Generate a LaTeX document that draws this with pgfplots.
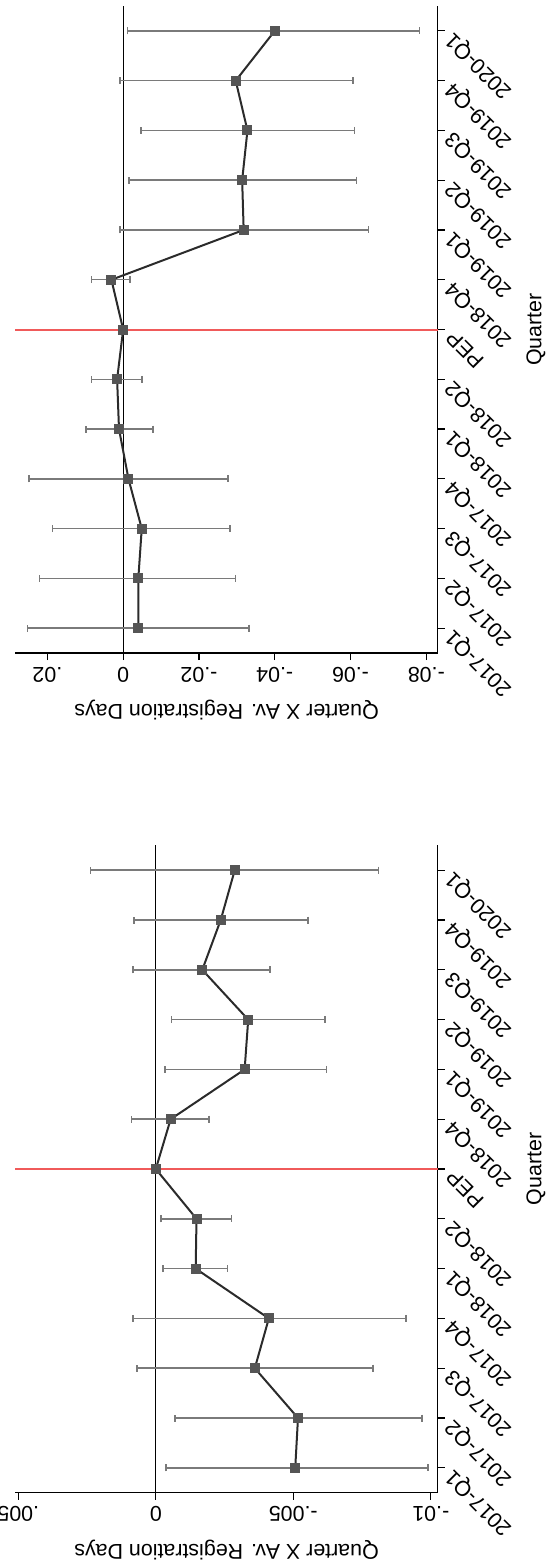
\documentclass[border=0pt]{standalone}
\usepackage{pgfplots}
\usepackage{pgfplotstable}
\pgfplotsset{compat=1.18}
\usepackage{fontspec}
\setmainfont{Liberation Sans}

\definecolor{linec}{HTML}{2B2B2B}
\definecolor{markc}{HTML}{555555}
\definecolor{errc}{HTML}{7A7A7A}
\definecolor{redc}{HTML}{F05A5A}

% q = category index, v = estimate, lo/hi = CI ends
\pgfplotstableread{
q v lo hi
0 -0.0040 -0.0332 0.0253
1 -0.0040 -0.0297 0.0221
2 -0.0049 -0.0282 0.0186
3 -0.0014 -0.0276 0.0249
4 0.0011 -0.0079 0.0098
5 0.0016 -0.0050 0.0083
6 0 0 0
7 0.0031 -0.0018 0.0083
8 -0.0318 -0.0648 0.0008
9 -0.0314 -0.0616 -0.0016
10 -0.0328 -0.0610 -0.0047
11 -0.0297 -0.0606 0.0008
12 -0.0400 -0.0782 -0.0012
}\toptable

\pgfplotstableread{
q v lo hi
0 -0.00507 -0.00990 -0.00037
1 -0.00517 -0.00968 -0.00070
2 -0.00360 -0.00790 0.00069
3 -0.00411 -0.00910 0.00083
4 -0.00145 -0.00261 -0.000255
5 -0.00148 -0.00275 -0.00018
6 0 0 0
7 -0.00054 -0.00194 0.00088
8 -0.00323 -0.00620 -0.00033
9 -0.00336 -0.00615 -0.00057
10 -0.00169 -0.00416 0.00083
11 -0.00236 -0.00554 0.00079
12 -0.00287 -0.00809 0.00238
}\bottable

\pgfplotsset{
  panel/.style={
    scale only axis,
    anchor=south west,
    width=211.15pt,
    axis x line*=bottom,
    axis y line*=right,
    axis line style={black, line width=0.6pt},
    tick align=outside,
    major tick length=3.5pt,
    tick style={black, line width=0.6pt},
    scaled x ticks=false,
    ymin=-0.5, ymax=12.5,
    ytick={0,...,12},
    yticklabels={2017-Q1,2017-Q2,2017-Q3,2017-Q4,2018-Q1,2018-Q2,PEP,2018-Q4,2019-Q1,2019-Q2,2019-Q3,2019-Q4,2020-Q1},
    yticklabel style={rotate=135, anchor=east, font=\fontsize{10.7}{12}\selectfont},
    xticklabel style={rotate=180, anchor=south, font=\fontsize{10.7}{12}\selectfont},
    every axis x label/.style={at={(axis description cs:0.5,-0.088)}, anchor=center, rotate=180, font=\fontsize{10.7}{12}\selectfont},
    every axis y label/.style={at={(axis description cs:1.2328,0.5)}, anchor=center, rotate=90, font=\fontsize{10.7}{12}\selectfont},
    xlabel={Quarter X Av. Registration Days},
    ylabel={Quarter},
    clip=false,
  },
  errplot/.style={
    only marks, mark=none, forget plot,
    skip coords between index={6}{7},
    error bars/.cd, x dir=both, x explicit,
    error bar style={errc, line width=0.75pt},
    error mark options={errc, line width=0.75pt, mark size=1.75pt, rotate=90},
  },
  lineplot/.style={
    linec, line width=1pt,
    mark=square*, mark size=2.25pt,
    mark options={fill=markc, draw=markc, line width=0pt},
  },
}

\begin{document}
\begin{tikzpicture}
\useasboundingbox (0,0) rectangle (274.5pt,-784pt);

% top panel
\begin{axis}[panel,
  at={(7.7pt,-326.5pt)},
  height=323.5pt,
  xmin=-0.02844, xmax=0.0830,
  xtick={-0.02,0,0.02,0.04,0.06,0.08},
  xticklabels={.02,0,-.02,-.04,-.06,-.08},
]
\addplot[black, line width=0.5pt, forget plot] coordinates {(0,-0.5) (0,12.5)};
\addplot[draw=redc, line width=1pt, forget plot] coordinates {(-0.02844,6) (0.0830,6)};
\addplot[errplot] table[x expr=-\thisrow{v}, y=q,
  x error plus expr=\thisrow{v}-\thisrow{lo},
  x error minus expr=\thisrow{hi}-\thisrow{v}] {\toptable};
\addplot[lineplot] table[x expr=-\thisrow{v}, y=q] {\toptable};
\end{axis}

% bottom panel
\begin{axis}[panel,
  at={(7.7pt,-746.35pt)},
  height=323.7pt,
  xmin=-0.005105, xmax=0.01025,
  xtick={-0.005,0,0.005,0.01},
  xticklabels={.005,0,-.005,-.01},
]
\addplot[black, line width=0.5pt, forget plot] coordinates {(0,-0.5) (0,12.5)};
\addplot[draw=redc, line width=1pt, forget plot] coordinates {(-0.005105,6) (0.01025,6)};
\addplot[errplot] table[x expr=-\thisrow{v}, y=q,
  x error plus expr=\thisrow{v}-\thisrow{lo},
  x error minus expr=\thisrow{hi}-\thisrow{v}] {\bottable};
\addplot[lineplot] table[x expr=-\thisrow{v}, y=q] {\bottable};
\end{axis}
\end{tikzpicture}
\end{document}
